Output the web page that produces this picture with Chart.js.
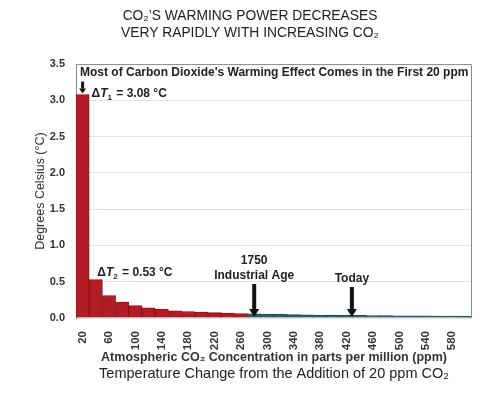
<!DOCTYPE html>
<html>
<head>
<title>CO2 Warming Power</title>
<script src="https://cdn.jsdelivr.net/npm/chart.js"></script>
<style>
  body { margin: 0; background: #fff; }
</style>
</head>
<body>
<canvas id="co2Chart" width="500" height="397"></canvas>
<script>
// data
const ppm = [20, 40, 60, 80, 100, 120, 140, 160, 180, 200, 220, 240, 260, 280, 300,
             320, 340, 360, 380, 400, 420, 440, 460, 480, 500, 520, 540, 560, 580, 600];
const warming = [3.08, 0.53, 0.31, 0.22, 0.17, 0.14, 0.12, 0.10, 0.09, 0.081,
                 0.073, 0.067, 0.061, 0.057, 0.053, 0.049, 0.046, 0.044, 0.041, 0.039,
                 0.037, 0.036, 0.034, 0.033, 0.031, 0.030, 0.029, 0.028, 0.027, 0.026];
const industrialPpm = 280;
const todayPpm = 428;

const FONT = '"Liberation Sans", Arial, sans-serif';
const RED = '#b31c24', RED_EDGE = '#861418';
const TEAL = '#2d5f6b', TEAL_EDGE = '#224a54';

function ppmIndex(v) { return v / 20 - 1; }

function drawArrow(ctx, x, y1, y2, shaft, headW, headH) {
  ctx.fillStyle = '#111';
  ctx.fillRect(x - shaft / 2, y1, shaft, y2 - y1 - headH);
  ctx.beginPath();
  ctx.moveTo(x - headW / 2, y2 - headH);
  ctx.lineTo(x + headW / 2, y2 - headH);
  ctx.lineTo(x, y2);
  ctx.closePath();
  ctx.fill();
}

// ΔT with italic T and a subscript
function drawDelta(ctx, x, y, sub, rest) {
  ctx.fillStyle = '#222';
  ctx.textAlign = 'left';
  ctx.textBaseline = 'middle';
  ctx.font = 'bold 12px ' + FONT;
  ctx.fillText('Δ', x, y);
  x += ctx.measureText('Δ').width;
  ctx.font = 'italic bold 12px ' + FONT;
  ctx.fillText('T', x, y);
  x += ctx.measureText('T').width;
  ctx.font = 'bold 8px ' + FONT;
  ctx.fillText(sub, x, y + 4);
  x += ctx.measureText(sub).width + 1;
  ctx.font = 'bold 12px ' + FONT;
  ctx.fillText(rest, x, y);
}

const notes = {
  id: 'notes',
  afterDatasetsDraw(chart) {
    const ctx = chart.ctx;
    const area = chart.chartArea;
    const xs = chart.scales.x, ys = chart.scales.y;
    const base = ys.getPixelForValue(0);
    ctx.save();

    // frame top and right
    ctx.strokeStyle = '#8a8a8a';
    ctx.lineWidth = 1;
    ctx.beginPath();
    ctx.moveTo(area.left, area.top + 0.5);
    ctx.lineTo(area.right - 0.5, area.top + 0.5);
    ctx.lineTo(area.right - 0.5, area.bottom);
    ctx.stroke();

    ctx.fillStyle = '#222';
    ctx.font = 'bold 12px ' + FONT;
    ctx.textBaseline = 'middle';
    ctx.fillText("Most of Carbon Dioxide's Warming Effect Comes in the First 20 ppm", area.left + 4, area.top + 9);

    // first step
    const x0 = xs.getPixelForValue(0);
    const top0 = ys.getPixelForValue(warming[0]);
    drawArrow(ctx, x0, top0 - 13, top0 - 1, 3, 7, 5);
    drawDelta(ctx, x0 + 9, top0 - 1, '1', ' = ' + warming[0].toFixed(2) + ' °C');

    // second step
    const x1 = xs.getPixelForValue(1);
    drawDelta(ctx, x1 + 1.5, ys.getPixelForValue(warming[1]) - 7, '2', ' = ' + warming[1].toFixed(2) + ' °C');

    // 1750 marker
    const xi = xs.getPixelForValue(ppmIndex(industrialPpm));
    ctx.fillStyle = '#222';
    ctx.textAlign = 'center';
    ctx.font = 'bold 12px ' + FONT;
    ctx.fillText('1750', xi, base - 57);
    ctx.fillText('Industrial Age', xi, base - 42);
    drawArrow(ctx, xi, base - 34, base - 1, 4, 10, 8);

    // today marker
    const xt = xs.getPixelForValue(ppmIndex(todayPpm));
    ctx.fillStyle = '#222';
    ctx.fillText('Today', xt, base - 39);
    drawArrow(ctx, xt, base - 31, base - 1, 4, 10, 8);

    ctx.restore();
  },
  afterDraw(chart) {
    const ctx = chart.ctx;
    const area = chart.chartArea;
    ctx.save();
    ctx.fillStyle = '#222';
    ctx.textAlign = 'center';
    ctx.textBaseline = 'middle';
    ctx.font = '14.5px ' + FONT;
    ctx.fillText('Temperature Change from the Addition of 20 ppm CO₂', (area.left + area.right) / 2, 374);
    ctx.restore();
  }
};

new Chart(document.getElementById('co2Chart'), {
  type: 'bar',
  data: {
    labels: ppm,
    datasets: [{
      data: warming,
      backgroundColor: ppm.map(v => v < industrialPpm ? RED : TEAL),
      borderColor: ppm.map(v => v < industrialPpm ? RED_EDGE : TEAL_EDGE),
      borderWidth: 1,
      barPercentage: 1,
      categoryPercentage: 1
    }]
  },
  options: {
    responsive: false,
    animation: false,
    layout: { padding: 0 },
    plugins: {
      legend: { display: false },
      tooltip: { enabled: false },
      title: {
        display: true,
        text: ['CO₂’S WARMING POWER DECREASES', 'VERY RAPIDLY WITH INCREASING CO₂'],
        color: '#222',
        font: { family: FONT, size: 13.8, weight: 'normal' },
        padding: { top: 8, bottom: 23 }
      }
    },
    scales: {
      x: {
        afterFit(s) { s.height = 79; },
        grid: { display: false },
        border: { display: false },
        ticks: {
          autoSkip: false,
          minRotation: 90,
          maxRotation: 90,
          padding: 5,
          color: '#333',
          font: { family: FONT, size: 11.5, weight: 'bold' },
          callback(v, i) { return i % 2 === 0 ? String(ppm[i]) : null; }
        },
        title: {
          display: true,
          text: 'Atmospheric CO₂ Concentration in parts per million (ppm)',
          color: '#333',
          font: { family: FONT, size: 12.5, weight: 'bold' },
          padding: { top: 0, bottom: 32 }
        }
      },
      y: {
        min: 0,
        max: 3.5,
        afterFit(s) { s.width = 76; },
        grid: { color: '#e2e2e2', drawTicks: false },
        border: { color: '#8a8a8a' },
        ticks: {
          stepSize: 0.5,
          padding: 11,
          color: '#333',
          font: { family: FONT, size: 11, weight: 'bold' },
          callback(v) { return v.toFixed(1); }
        },
        title: {
          display: true,
          text: 'Degrees Celsius (°C)',
          color: '#333',
          font: { family: FONT, size: 12.5, weight: 'normal' },
          padding: { top: 33, bottom: 0 }
        }
      },
      // empty right-hand strip so the plot ends where the reference does
      pad: {
        position: 'right',
        afterFit(s) { s.width = 28; },
        grid: { display: false },
        border: { display: false },
        ticks: { display: false }
      }
    }
  },
  plugins: [notes]
});
</script>
</body>
</html>
